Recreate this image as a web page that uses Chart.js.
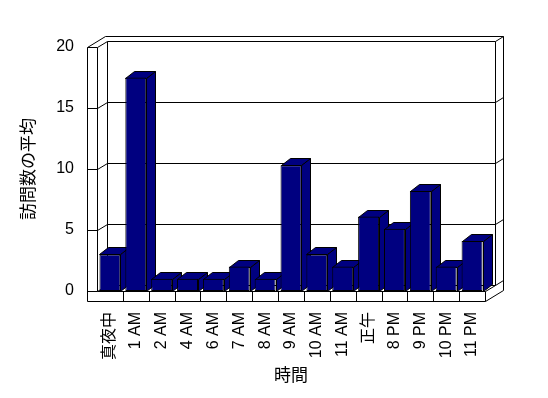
<!DOCTYPE html>
<html>
<head>
<meta charset="utf-8">
<script src="https://cdn.jsdelivr.net/npm/chart.js@4"></script>
<style>
  body { margin: 0; background: #fff; }
</style>
</head>
<body>
<canvas id="myChart" width="548" height="398"></canvas>
<script>
const categories = ['真夜中', '1 AM', '2 AM', '4 AM', '6 AM', '7 AM', '8 AM', '9 AM', '10 AM', '11 AM', '正午', '8 PM', '9 PM', '10 PM', '11 PM'];
const visits = [3, 17.5, 1, 1, 1, 2, 1, 10.3, 3, 2, 6.1, 5.1, 8.2, 2, 4.1];
const yTicks = [0, 5, 10, 15, 20];

const FONT = "'Liberation Sans', 'Noto Sans CJK JP', sans-serif";
const NAVY = '#000080';

// 3d look: wall depth, wall thickness, front slab size, bar depth
const D = { x: 10, y: -6 };
const TH = { x: 8, y: -5 };
const SLAB = 10;
const BD = { x: 9, y: -7 };

function line(ctx, x1, y1, x2, y2) {
    ctx.beginPath();
    ctx.moveTo(Math.round(x1) + 0.5, Math.round(y1) + 0.5);
    ctx.lineTo(Math.round(x2) + 0.5, Math.round(y2) + 0.5);
    ctx.stroke();
}

function poly(ctx, pts) {
    ctx.beginPath();
    pts.forEach((p, i) => {
        const x = Math.round(p[0]) + 0.5, y = Math.round(p[1]) + 0.5;
        if (i === 0) ctx.moveTo(x, y); else ctx.lineTo(x, y);
    });
    ctx.closePath();
    ctx.fill();
    ctx.stroke();
}

const box3d = {
    id: 'box3d',
    beforeDatasetsDraw(chart) {
        const ctx = chart.ctx;
        const a = chart.chartArea;
        const L = a.left, R = a.right, T = a.top, B = a.bottom;
        const ys = chart.scales.y;
        const xs = chart.scales.x;
        ctx.save();
        ctx.strokeStyle = '#000';
        ctx.lineWidth = 1;

        // back wall gridlines + left/right wall diagonals
        yTicks.forEach(v => {
            const y = ys.getPixelForValue(v);
            line(ctx, L + D.x, y + D.y, R + D.x, y + D.y);
            line(ctx, L, y, L + D.x, y + D.y);
            line(ctx, R + D.x, y + D.y, R + D.x + TH.x, y + D.y + TH.y);
            line(ctx, L - SLAB, y, L, y);
        });
        // back wall edges
        line(ctx, L + D.x, T + D.y, L + D.x, B + D.y);
        line(ctx, R + D.x, T + D.y, R + D.x, B + D.y);
        // outer back
        line(ctx, L - SLAB, T, L - SLAB + D.x + TH.x, T + D.y + TH.y);
        line(ctx, L - SLAB + D.x + TH.x, T + D.y + TH.y, R + D.x + TH.x, T + D.y + TH.y);
        line(ctx, R + D.x + TH.x, T + D.y + TH.y, R + D.x + TH.x, B + SLAB + D.y + TH.y);
        line(ctx, R, B + SLAB, R + D.x + TH.x, B + SLAB + D.y + TH.y);
        line(ctx, R, B, R + D.x, B + D.y);
        // left slab front face
        line(ctx, L - SLAB, T, L - SLAB, B + SLAB);
        line(ctx, L, T, L, B);
        // floor slab front face
        line(ctx, L - SLAB, B + SLAB, R, B + SLAB);
        line(ctx, L, B, R, B);
        line(ctx, R, B, R, B + SLAB);
        const n = categories.length;
        const w = (R - L) / n;
        for (let i = 1; i < n; i++) {
            line(ctx, L + i * w, B, L + i * w, B + SLAB);
        }

        // bar sides and tops, left to right
        ctx.fillStyle = NAVY;
        chart.getDatasetMeta(0).data.forEach(bar => {
            const l = bar.x - bar.width / 2, r = bar.x + bar.width / 2;
            const top = bar.y, base = bar.base;
            poly(ctx, [[r, top], [r + BD.x, top + BD.y], [r + BD.x, base + BD.y], [r, base]]);
            poly(ctx, [[l, top], [l + BD.x, top + BD.y], [r + BD.x, top + BD.y], [r, top]]);
        });
        ctx.restore();
    }
};

new Chart(document.getElementById('myChart'), {
    type: 'bar',
    data: {
        labels: categories,
        datasets: [{
            label: '訪問数の平均',
            data: visits,
            backgroundColor: NAVY,
            borderColor: '#000',
            borderWidth: 1,
            borderSkipped: false,
            barPercentage: 0.81,
            categoryPercentage: 1
        }]
    },
    options: {
        responsive: false,
        animation: false,
        devicePixelRatio: 1,
        layout: { padding: { top: 47, right: 63, left: 0, bottom: 0 } },
        plugins: {
            legend: { display: false },
            tooltip: { enabled: false }
        },
        scales: {
            x: {
                grid: { display: false, drawTicks: false },
                border: { display: false },
                ticks: {
                    autoSkip: false,
                    minRotation: 90,
                    maxRotation: 90,
                    padding: 21,
                    color: '#000',
                    font: { family: FONT, size: 16 }
                },
                title: {
                    display: true,
                    text: '時間',
                    color: '#000',
                    font: { family: FONT, size: 17 },
                    padding: { top: 0, bottom: 11 }
                },
                afterFit(scale) { scale.height = 107; }
            },
            y: {
                min: 0,
                max: 20,
                grid: { display: false, drawTicks: false },
                border: { display: false },
                ticks: {
                    stepSize: 5,
                    padding: 23,
                    color: '#000',
                    font: { family: FONT, size: 16 }
                },
                afterBuildTicks(scale) { scale.ticks = yTicks.map(v => ({ value: v })); },
                title: {
                    display: true,
                    text: '訪問数の平均',
                    color: '#000',
                    font: { family: FONT, size: 17 },
                    padding: { top: 19, bottom: 0 }
                },
                afterFit(scale) { scale.width = 97; }
            }
        }
    },
    plugins: [box3d]
});
</script>
</body>
</html>
